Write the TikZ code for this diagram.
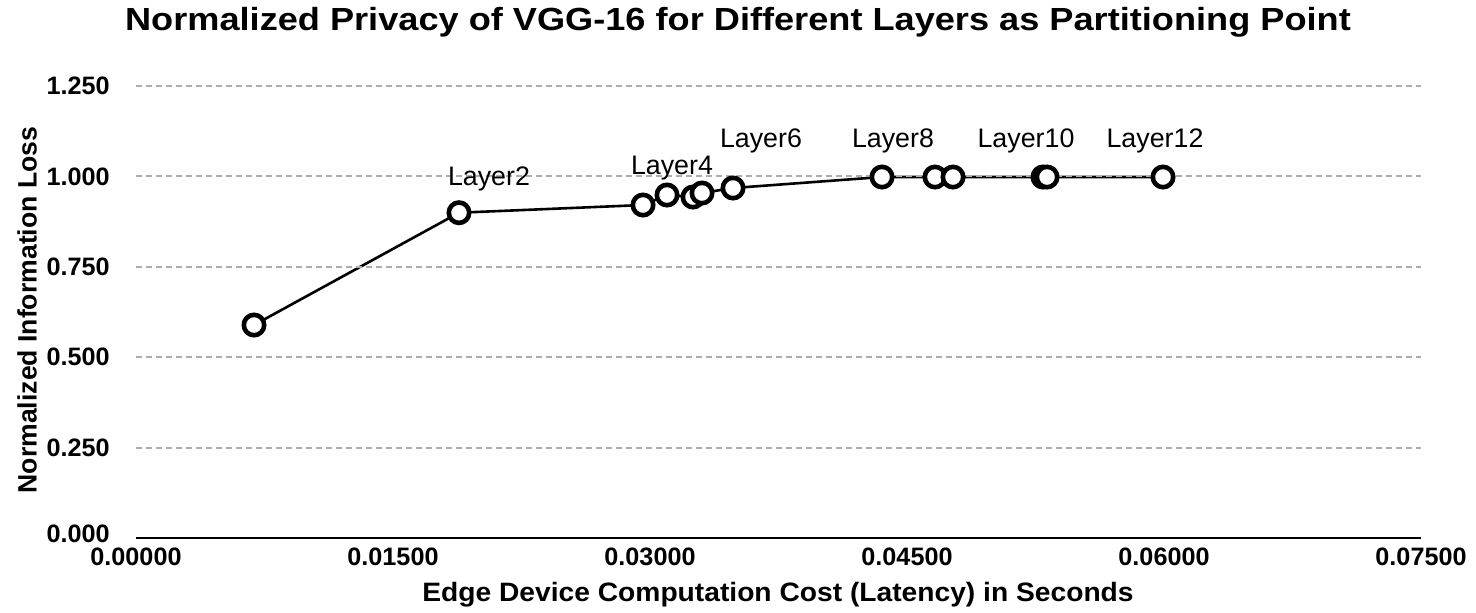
\documentclass[tikz,border=0pt]{standalone}
\usepackage{fontspec}
\setmainfont{Liberation Sans}
\usetikzlibrary{backgrounds}
\begin{document}
\begin{tikzpicture}[x=0.5pt,y=-0.5pt,
  gridline/.style={draw=black!32, line width=1pt, dash pattern=on 3pt off 2pt},
  axisline/.style={draw=black, line width=1pt},
  series/.style={draw=black, line width=1.3pt},
  marker/.style={circle, draw=black, fill=white, line width=2.3pt, minimum size=10.2pt, inner sep=0pt},
  ticklab/.style={font=\bfseries\fontsize{12.6}{14}\selectfont, inner sep=0pt},
  axtitle/.style={font=\bfseries\fontsize{13.3}{15}\selectfont, inner sep=0pt},
  charttitle/.style={font=\bfseries\fontsize{16}{18}\selectfont, inner sep=0pt, xscale=1.13},
  layerlab/.style={font=\fontsize{13.4}{15}\selectfont, inner sep=0pt, anchor=base}]
\useasboundingbox (0,0) rectangle (1476,612);
% title
\node[charttitle] (title) at (738,22) {Normalized Privacy of VGG-16 for Different Layers as Partitioning Point};
% grid lines
\foreach \yy in {86,176.4,266.8,357.2,447.6} \draw[gridline] (136,\yy) -- (1421,\yy);
\draw[axisline] (136,538) -- (1421,538);
% y tick labels
\foreach \yy/\lab in {86/1.250,176.4/1.000,266.8/0.750,357.2/0.500,447.6/0.250,534/0.000}
  \node[ticklab, anchor=east] at (110,\yy) {\lab};
% x tick labels
\foreach \xx/\lab in {136/0.00000,393/0.01500,650/0.03000,907/0.04500,1164/0.06000,1421/0.07500}
  \node[ticklab] at (\xx,557) {\lab};
% axis titles
\node[axtitle, xscale=1.06] (xtitle) at (778,595) {Edge Device Computation Cost (Latency) in Seconds};
\node[axtitle, rotate=90] (ytitle) at (27,310) {Normalized Information Loss};
% data points
\foreach \n/\px/\py in {1/254/325,2/459/212.7,3/643/205,4/667/195,5/693/197,6/702/193,7/733/188,
  8/882/177,9/935/177,10/953/177,11/1043/177,12/1047/177,13/1163/177}
  \node[marker] (p\n) at (\px,\py) {};
\begin{scope}[on background layer]
\draw[series] (p1.center) -- (p2.center) -- (p3.center) -- (p4.center) -- (p5.center) -- (p6.center)
  -- (p7.center) -- (p8.center) -- (p9.center) -- (p10.center) -- (p11.center) -- (p12.center) -- (p13.center);
\end{scope}
% layer labels
\node[layerlab] (l2) at (489,185) {Layer2};
\node[layerlab] (l4) at (672,174) {Layer4};
\node[layerlab] (l6) at (761,147) {Layer6};
\node[layerlab] (l8) at (893,147) {Layer8};
\node[layerlab] (l10) at (1026,147) {Layer10};
\node[layerlab] (l12) at (1155,147) {Layer12};
\end{tikzpicture}
\end{document}
